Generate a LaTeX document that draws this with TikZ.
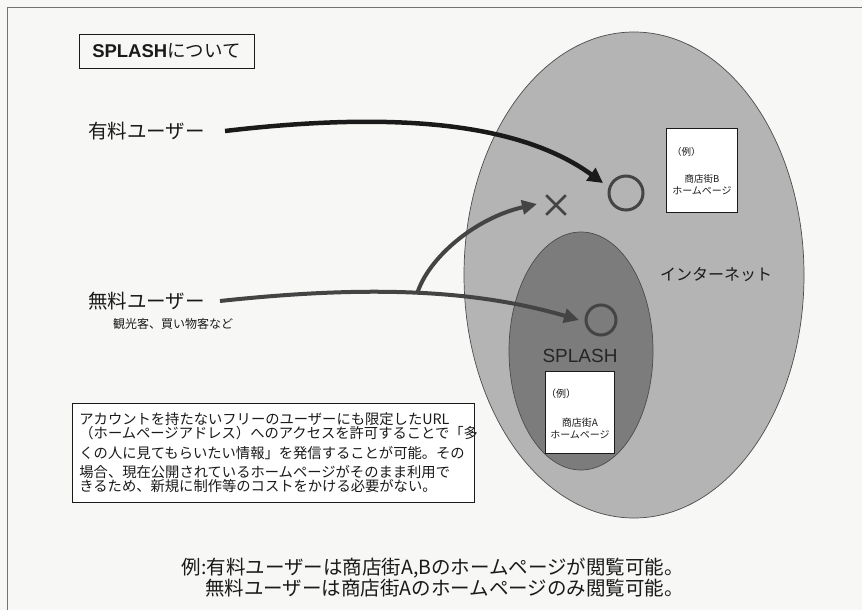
\documentclass[tikz,border=0pt]{standalone}
\usepackage{fontspec}
\setmainfont{Noto Sans CJK JP}
\newfontfamily\lat{Liberation Sans}
\usetikzlibrary{arrows.meta,shapes.geometric,shapes.misc}
\definecolor{bg}{HTML}{F7F7F5}
\definecolor{netgray}{HTML}{B4B4B4}
\definecolor{splgray}{HTML}{7C7C7C}
\definecolor{ink}{HTML}{1A1A1A}
\definecolor{mark}{HTML}{444444}
\newcommand{\fs}[2]{\fontsize{#1bp}{#2bp}\selectfont\lineskiplimit=-100bp\lineskip=0pt}
\begin{document}
\begin{tikzpicture}[x=1bp,y=-1bp,
  txt/.style={inner sep=0pt, text=ink},
  whitebox/.style={draw=ink, line width=0.8bp, fill=white, inner sep=0pt},
  ring/.style={circle, draw=mark, line width=3bp, inner sep=0pt},
  paidarrow/.style={draw=ink, line width=4.5bp, -{Triangle[length=15bp,width=15bp]}},
  freearrow/.style={draw=mark, line width=4bp, -{Triangle[length=15bp,width=14bp]}},
  blob/.style={ellipse, draw=black!70, line width=0.7bp, inner sep=0pt}
]
\fill[bg] (0,0) rectangle (862,610);
\useasboundingbox (0,0) rectangle (862,610);
% frame
\draw[black!55, line width=1bp] (7,620) -- (7,8) -- (870,8);

% title
\node[draw=ink, line width=0.9bp, minimum width=175bp, minimum height=34bp, inner sep=0pt, text=ink] (title) at (166.5,51) {\fs{18.5}{20}{\lat\bfseries SPLASH}について};

% ellipses
\node[blob, fill=netgray, minimum width=340bp, minimum height=486bp] (net) at (634,275) {};
\node[blob, fill=splgray, minimum width=144bp, minimum height=238bp] (splash) at (581,351) {};

\node[txt] (netlabel) at (716,275) {\fs{16}{18}インターネット};
\node[txt, text=black!85] (splabel) at (580,356) {\fs{19}{22}\lat SPLASH};

% boxes
\node[whitebox, minimum width=71bp, minimum height=84bp] (boxB) at (701.5,170) {};
\node[txt, anchor=west] (exB) at (672,152) {\fs{9.5}{11}（例）};
\node[txt, align=center] (nameB) at (702,185) {\fs{9.5}{15.5}商店街B\\ホームページ};

\node[whitebox, minimum width=69bp, minimum height=82bp] (boxA) at (579.5,412) {};
\node[txt, anchor=west] (exA) at (546,394) {\fs{10}{11}（例）};
\node[txt, align=center] (nameA) at (580,428.5) {\fs{10}{15.5}商店街A\\ホームページ};

% marks
\node[ring, minimum size=34bp] (circB) at (626,193) {};
\node[ring, minimum size=30bp] (circA) at (601,320) {};
\node[cross out, draw=mark, line width=2.6bp, minimum size=17bp, inner sep=0pt] (cross) at (556,205) {};

% users
\node[txt, anchor=west] (paid) at (88,131) {\fs{19.5}{22}有料ユーザー};
\node[txt, anchor=west] (free) at (88,301) {\fs{19.5}{22}無料ユーザー};
\node[txt, anchor=west] (freenote) at (113,324) {\fs{12}{14}観光客、買い物客など};

\coordinate (tipB) at (603,183);
\coordinate (tipA) at (579,320);
\coordinate (tipX) at (537,204);
\coordinate (fork) at (417,294);

\draw[paidarrow] ([xshift=20bp]paid.east) .. controls (420,108) and (530,130) .. (tipB);
\draw[freearrow] ([xshift=15bp]free.east) .. controls (360,286) and (470,288) .. (tipA);
\draw[freearrow] (fork) .. controls (428,258) and (475,218) .. (tipX);

% description
\node[draw=ink, line width=0.8bp, fill=white, anchor=north west, text width=388bp, minimum height=99bp, align=left, inner xsep=7bp, inner ysep=0bp, text=ink] (desc) at (72,403) {\fs{14.3}{19.5}%
アカウントを持たないフリーのユーザーにも限定したURL\\
\kern-0.4em（ホームページアドレス）へのアクセスを許可することで「多\\
くの人に見てもらいたい情報」を発信することが可能。その\\
場合、現在公開されているホームページがそのまま利用で\\
きるため、新規に制作等のコストをかける必要がない。};

% bottom notes
\node[txt, anchor=east] (note1) at (684,568) {\fs{19.5}{22}例:有料ユーザーは商店街A,Bのホームページが閲覧可能。};
\node[txt, anchor=east] (note2) at (684,588) {\fs{19.5}{22}無料ユーザーは商店街Aのホームページのみ閲覧可能。};
\end{tikzpicture}
\end{document}
